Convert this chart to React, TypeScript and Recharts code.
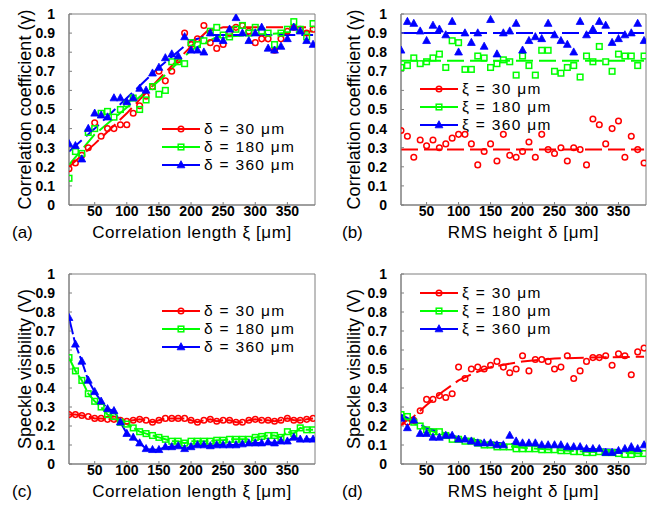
import { ComposedChart, Legend, Line, ReferenceArea, Scatter, XAxis, YAxis } from "recharts";

const FONT = '"Liberation Sans", Arial, sans-serif';
const AXIS_GRAY = "#7f7f7f";
const RED = "#ff0000";
const GREEN = "#00ff00";
const BLUE = "#0000ff";

// sample positions (µm), shared by every panel
const xPositions = [
  10, 20, 30, 40, 50, 60, 70, 80, 90, 100, 110, 120, 130, 140, 150, 160, 170, 180, 190, 200,
  210, 220, 230, 240, 250, 260, 270, 280, 290, 300, 310, 320, 330, 340, 350, 360, 370, 380, 390,
];
const xTicks = [50, 100, 150, 200, 250, 300, 350];
const yTicks = [0, 0.1, 0.2, 0.3, 0.4, 0.5, 0.6, 0.7, 0.8, 0.9, 1];
const xDomain = [10, 393];

// (a) correlation coefficient vs correlation length
const aRed = [
  0.19, 0.22, 0.26, 0.3, 0.43, 0.36, 0.4, 0.4, 0.42, 0.42, 0.48, 0.52, 0.57, 0.62, 0.7, 0.65, 0.7, 0.76, 0.9, 0.84,
  0.87, 0.94, 0.85, 0.82, 0.84, 0.9, 0.93, 0.94, 0.91, 0.85, 0.87, 0.87, 0.81, 0.87, 0.91, 0.93, 0.92, 0.9, 0.92,
];
const aGreen = [
  0.14, 0.28, 0.27, 0.38, 0.4, 0.48, 0.49, 0.46, 0.5, 0.53, 0.56, 0.5, 0.55, 0.62, 0.58, 0.6, 0.75, 0.75, 0.74, 0.85,
  0.84, 0.86, 0.91, 0.93, 0.89, 0.88, 0.92, 0.94, 0.9, 0.93, 0.91, 0.9, 0.84, 0.9, 0.92, 0.96, 0.92, 0.88, 0.95,
];
const aBlue = [
  0.32, 0.31, 0.24, 0.4, 0.48, 0.47, 0.46, 0.56, 0.56, 0.54, 0.56, 0.61, 0.6, 0.69, 0.72, 0.77, 0.79, 0.78, 0.88, 0.81,
  0.81, 0.8, 0.9, 0.87, 0.86, 0.92, 0.98, 0.9, 0.86, 0.9, 0.93, 0.82, 0.81, 0.83, 0.87, 0.93, 0.91, 0.86, 0.84,
];
const aRedFitX = [10, 50, 100, 150, 200, 225, 250, 390];
const aRedFitY = [0.2, 0.32, 0.48, 0.66, 0.83, 0.91, 0.93, 0.93];
const aGreenFitX = [10, 50, 100, 150, 200, 240, 300, 390];
const aGreenFitY = [0.21, 0.37, 0.51, 0.65, 0.81, 0.88, 0.89, 0.91];
const aBlueFitX = [10, 50, 100, 150, 200, 230, 390];
const aBlueFitY = [0.28, 0.4, 0.56, 0.72, 0.86, 0.89, 0.89];

// (b) correlation coefficient vs RMS height
const bRed = [
  0.39, 0.36, 0.25, 0.34, 0.31, 0.34, 0.3, 0.32, 0.35, 0.37, 0.37, 0.32, 0.21, 0.28, 0.32, 0.23, 0.37, 0.26, 0.25, 0.28,
  0.33, 0.25, 0.37, 0.29, 0.27, 0.3, 0.23, 0.3, 0.29, 0.21, 0.45, 0.42, 0.32, 0.4, 0.44, 0.25, 0.36, 0.29, 0.22,
];
const bGreen = [
  0.72, 0.73, 0.77, 0.74, 0.75, 0.77, 0.79, 0.72, 0.86, 0.85, 0.71, 0.71, 0.78, 0.77, 0.72, 0.74, 0.76, 0.75, 0.68, 0.78,
  0.73, 0.68, 0.81, 0.81, 0.7, 0.69, 0.72, 0.73, 0.67, 0.78, 0.75, 0.83, 0.75, 0.7, 0.79, 0.78, 0.78, 0.73, 0.78,
];
const bBlue = [
  0.81, 0.96, 0.95, 0.91, 0.86, 0.94, 0.92, 0.89, 0.96, 0.8, 0.9, 0.85, 0.9, 0.83, 0.97, 0.79, 0.9, 0.91, 0.95, 0.81,
  0.86, 0.88, 0.87, 0.95, 0.89, 0.86, 0.84, 0.8, 0.96, 0.89, 0.92, 0.96, 0.94, 0.85, 0.87, 0.89, 0.9, 0.95, 0.86,
];
const bFitX = [10, 390];
const bRedFitY = [0.29, 0.29];
const bGreenFitY = [0.755, 0.755];
const bBlueFitY = [0.9, 0.9];

// (c) speckle visibility vs correlation length
const cRed = [
  0.26, 0.26, 0.255, 0.25, 0.24, 0.24, 0.235, 0.235, 0.23, 0.225, 0.23, 0.235, 0.23, 0.22, 0.23, 0.24, 0.24, 0.24, 0.24, 0.23,
  0.22, 0.23, 0.235, 0.225, 0.23, 0.23, 0.22, 0.22, 0.23, 0.235, 0.23, 0.23, 0.225, 0.23, 0.24, 0.23, 0.23, 0.235, 0.24,
];
const cGreen = [
  0.56, 0.49, 0.44, 0.37, 0.33, 0.3, 0.26, 0.25, 0.22, 0.21, 0.19, 0.17, 0.16, 0.15, 0.14, 0.13, 0.12, 0.12, 0.11, 0.12,
  0.12, 0.12, 0.12, 0.125, 0.125, 0.13, 0.13, 0.13, 0.13, 0.14, 0.145, 0.15, 0.15, 0.14, 0.17, 0.16, 0.19, 0.18, 0.18,
];
const cBlue = [
  0.77, 0.63, 0.54, 0.44, 0.38, 0.33, 0.29, 0.28, 0.22, 0.16, 0.14, 0.11, 0.08, 0.075, 0.075, 0.09, 0.09, 0.095, 0.08, 0.09,
  0.1, 0.1, 0.095, 0.1, 0.1, 0.1, 0.1, 0.105, 0.11, 0.11, 0.11, 0.115, 0.11, 0.12, 0.12, 0.14, 0.13, 0.13, 0.13,
];

// (d) speckle visibility vs RMS height
const dRed = [
  0.22, 0.22, 0.23, 0.28, 0.34, 0.34, 0.36, 0.35, 0.37, 0.51, 0.45, 0.5, 0.51, 0.5, 0.52, 0.54, 0.51, 0.48, 0.5, 0.57,
  0.49, 0.55, 0.55, 0.54, 0.5, 0.51, 0.57, 0.45, 0.49, 0.54, 0.56, 0.56, 0.57, 0.52, 0.58, 0.57, 0.47, 0.59, 0.61,
];
const dGreen = [
  0.26, 0.25, 0.22, 0.2, 0.18, 0.17, 0.17, 0.15, 0.13, 0.13, 0.12, 0.12, 0.11, 0.1, 0.1, 0.09, 0.09, 0.09, 0.08, 0.08,
  0.08, 0.08, 0.075, 0.075, 0.075, 0.07, 0.07, 0.065, 0.065, 0.06, 0.06, 0.065, 0.06, 0.06, 0.055, 0.05, 0.05, 0.055, 0.055,
];
const dBlue = [
  0.24, 0.19, 0.23, 0.16, 0.16, 0.14, 0.14, 0.15, 0.15, 0.13, 0.13, 0.12, 0.11, 0.11, 0.11, 0.1, 0.1, 0.15, 0.12, 0.11,
  0.11, 0.11, 0.1, 0.1, 0.1, 0.1, 0.09, 0.09, 0.09, 0.08, 0.08, 0.08, 0.06, 0.06, 0.07, 0.08, 0.09, 0.08, 0.1,
];
const dRedFitX = [10, 30, 50, 75, 100, 125, 150, 200, 250, 300, 390];
const dRedFitY = [0.21, 0.25, 0.31, 0.38, 0.44, 0.48, 0.51, 0.54, 0.555, 0.56, 0.565];
const dFitX = [10, 50, 100, 150, 200, 250, 300, 390];
const dGreenFitY = [0.25, 0.18, 0.135, 0.105, 0.085, 0.075, 0.065, 0.055];
const dBlueFitY = [0.26, 0.19, 0.14, 0.115, 0.1, 0.09, 0.08, 0.07];

const deltaLabels = ["δ = 30 μm", "δ = 180 μm", "δ = 360 μm"];
const xiLabels = ["ξ = 30 μm", "ξ = 180 μm", "ξ = 360 μm"];

type MarkerKind = "circle" | "square" | "triangle";
type Pt = { x: number; y: number };

const pairs = (xs: number[], ys: number[]): Pt[] => xs.map((x, i) => ({ x, y: ys[i] }));

function Marker({ cx, cy, kind, color }: { cx: number; cy: number; kind: MarkerKind; color: string }) {
  if (cx == null || cy == null) return null;
  if (kind === "circle") {
    return <circle cx={cx} cy={cy} r={2.8} fill="none" stroke={color} strokeWidth={1.5} />;
  }
  if (kind === "square") {
    return <rect x={cx - 2.8} y={cy - 2.8} width={5.6} height={5.6} fill="none" stroke={color} strokeWidth={1.5} />;
  }
  return <polygon points={`${cx},${cy - 4.3} ${cx - 3.9},${cy + 2.8} ${cx + 3.9},${cy + 2.8}`} fill={color} stroke={color} strokeWidth={0.8} />;
}

const markerShape = (kind: MarkerKind, color: string) => (props: any) =>
  <Marker cx={props.cx} cy={props.cy} kind={kind} color={color} />;

interface SeriesDef {
  key: string;
  color: string;
  kind: MarkerKind;
  points: Pt[];
  fit: Pt[];
  dash: string;
}

interface PanelProps {
  left: number;
  top: number;
  height: number;
  margin: { top: number; right: number; bottom: number; left: number };
  yTitle: string;
  yTitleX: number;
  xTitle: string;
  letter: string;
  letterLeft: number;
  legendLabels: string[];
  legendLeft: number;
  legendTop: number;
  series: SeriesDef[];
}

function LegendBox({ labels, series }: { labels: string[]; series: SeriesDef[] }) {
  return (
    <div style={{ fontFamily: FONT, fontSize: 15.5, letterSpacing: 1.3, color: "#000" }}>
      {series.map((s, i) => (
        <div key={s.key} style={{ display: "flex", alignItems: "center", height: 18 }}>
          <svg width={40} height={18}>
            <line x1={0} y1={9} x2={38} y2={9} stroke={s.color} strokeWidth={2} />
            <Marker cx={19} cy={9} kind={s.kind} color={s.color} />
          </svg>
          <span style={{ marginLeft: 2, lineHeight: "18px", whiteSpace: "nowrap" }}>{labels[i]}</span>
        </div>
      ))}
    </div>
  );
}

const tickStyle = { fill: "#000", fontSize: 14, fontWeight: 700, fontFamily: FONT };

function Panel(p: PanelProps) {
  const yTitleContent = (props: any) => {
    const vb = props.viewBox;
    const cy = vb.y + vb.height / 2;
    return (
      <text x={p.yTitleX} y={cy} transform={`rotate(-90 ${p.yTitleX} ${cy})`} textAnchor="middle"
        dominantBaseline="central" fontSize={18} fontFamily={FONT} fill="#000">
        {p.yTitle}
      </text>
    );
  };
  // x title and the panel letter share one baseline under the tick labels
  const xTitleContent = (props: any) => {
    const vb = props.viewBox;
    const base = vb.y + 33;
    return (
      <g>
        <text x={p.letterLeft} y={base} fontSize={17} fontFamily={FONT} fill="#000">
          {p.letter}
        </text>
        <text x={vb.x + vb.width / 2} y={base} textAnchor="middle"
          fontSize={17} letterSpacing={0.6} fontFamily={FONT} fill="#000">
          {p.xTitle}
        </text>
      </g>
    );
  };

  return (
    <div style={{ position: "absolute", left: p.left, top: p.top, width: 326, height: p.height }}>
      <ComposedChart width={326} height={p.height} margin={p.margin}>
        <XAxis
          type="number"
          dataKey="x"
          domain={xDomain}
          ticks={xTicks}
          interval={0}
          allowDataOverflow
          height={30}
          tick={tickStyle}
          tickSize={-3}
          tickMargin={4}
          axisLine={{ stroke: AXIS_GRAY }}
          tickLine={{ stroke: AXIS_GRAY }}
          label={xTitleContent}
        />
        <YAxis
          type="number"
          dataKey="y"
          domain={[0, 1]}
          ticks={yTicks}
          interval={0}
          allowDataOverflow
          width={50}
          tick={tickStyle}
          tickSize={-3}
          tickMargin={17}
          axisLine={{ stroke: AXIS_GRAY }}
          tickLine={{ stroke: AXIS_GRAY }}
          label={yTitleContent}
        />
        {/* plot frame (top and right edges of the box) */}
        <ReferenceArea
          x1={xDomain[0]}
          x2={xDomain[1]}
          y1={0}
          y2={1}
          fill="none"
          fillOpacity={0}
          stroke={AXIS_GRAY}
          strokeWidth={1}
          ifOverflow="visible"
        />
        {p.series.map((s) => (
          <Line
            key={`fit-${s.key}`}
            data={s.fit}
            dataKey="y"
            type="linear"
            stroke={s.color}
            strokeWidth={2}
            strokeDasharray={s.dash}
            dot={false}
            activeDot={false}
            legendType="none"
            isAnimationActive={false}
          />
        ))}
        {p.series.map((s) => (
          <Scatter
            key={`pts-${s.key}`}
            data={s.points}
            dataKey="y"
            shape={markerShape(s.kind, s.color)}
            legendType="none"
            isAnimationActive={false}
          />
        ))}
        <Legend
          layout="vertical"
          align="center"
          verticalAlign="middle"
          wrapperStyle={{ left: p.legendLeft, top: p.legendTop, width: "auto" }}
          content={() => <LegendBox labels={p.legendLabels} series={p.series} />}
        />
      </ComposedChart>
    </div>
  );
}

const DASH = "17 6";

const seriesA: SeriesDef[] = [
  { key: "r", color: RED, kind: "circle", points: pairs(xPositions, aRed), fit: pairs(aRedFitX, aRedFitY), dash: DASH },
  { key: "g", color: GREEN, kind: "square", points: pairs(xPositions, aGreen), fit: pairs(aGreenFitX, aGreenFitY), dash: DASH },
  { key: "b", color: BLUE, kind: "triangle", points: pairs(xPositions, aBlue), fit: pairs(aBlueFitX, aBlueFitY), dash: DASH },
];
const seriesB: SeriesDef[] = [
  { key: "r", color: RED, kind: "circle", points: pairs(xPositions, bRed), fit: pairs(bFitX, bRedFitY), dash: DASH },
  { key: "g", color: GREEN, kind: "square", points: pairs(xPositions, bGreen), fit: pairs(bFitX, bGreenFitY), dash: DASH },
  { key: "b", color: BLUE, kind: "triangle", points: pairs(xPositions, bBlue), fit: pairs(bFitX, bBlueFitY), dash: DASH },
];
const seriesC: SeriesDef[] = [
  { key: "r", color: RED, kind: "circle", points: pairs(xPositions, cRed), fit: pairs(xPositions, cRed), dash: "17 3" },
  { key: "g", color: GREEN, kind: "square", points: pairs(xPositions, cGreen), fit: pairs(xPositions, cGreen), dash: "17 3" },
  { key: "b", color: BLUE, kind: "triangle", points: pairs(xPositions, cBlue), fit: pairs(xPositions, cBlue), dash: "17 3" },
];
const seriesD: SeriesDef[] = [
  { key: "r", color: RED, kind: "circle", points: pairs(xPositions, dRed), fit: pairs(dRedFitX, dRedFitY), dash: DASH },
  { key: "g", color: GREEN, kind: "square", points: pairs(xPositions, dGreen), fit: pairs(dFitX, dGreenFitY), dash: DASH },
  { key: "b", color: BLUE, kind: "triangle", points: pairs(xPositions, dBlue), fit: pairs(dFitX, dBlueFitY), dash: DASH },
];

export default function App() {
  return (
    <div style={{ position: "absolute", left: 0, top: 0, width: 652, height: 513, background: "#fff", overflow: "hidden" }}>
      <Panel
        left={0} top={0} height={256}
        margin={{ top: 14, right: 11, bottom: 21, left: 19 }}
        yTitle="Correlation coefficient (γ)" yTitleX={25}
        xTitle="Correlation length ξ [μm]"
        letter="(a)" letterLeft={12}
        legendLabels={deltaLabels} legendLeft={162} legendTop={120}
        series={seriesA}
      />
      <Panel
        left={326} top={0} height={256}
        margin={{ top: 14, right: 6, bottom: 21, left: 25 }}
        yTitle="Correlation coefficient (γ)" yTitleX={28}
        xTitle="RMS height δ [μm]"
        letter="(b)" letterLeft={16}
        legendLabels={xiLabels} legendLeft={94} legendTop={80}
        series={seriesB}
      />
      <Panel
        left={0} top={256} height={257}
        margin={{ top: 18, right: 11, bottom: 19, left: 19 }}
        yTitle="Speckle visibility (V)" yTitleX={25}
        xTitle="Correlation length ξ [μm]"
        letter="(c)" letterLeft={12}
        legendLabels={deltaLabels} legendLeft={162} legendTop={46}
        series={seriesC}
      />
      <Panel
        left={326} top={256} height={257}
        margin={{ top: 18, right: 6, bottom: 19, left: 25 }}
        yTitle="Speckle visibility (V)" yTitleX={28}
        xTitle="RMS height δ [μm]"
        letter="(d)" letterLeft={16}
        legendLabels={xiLabels} legendLeft={94} legendTop={28}
        series={seriesD}
      />
    </div>
  );
}
